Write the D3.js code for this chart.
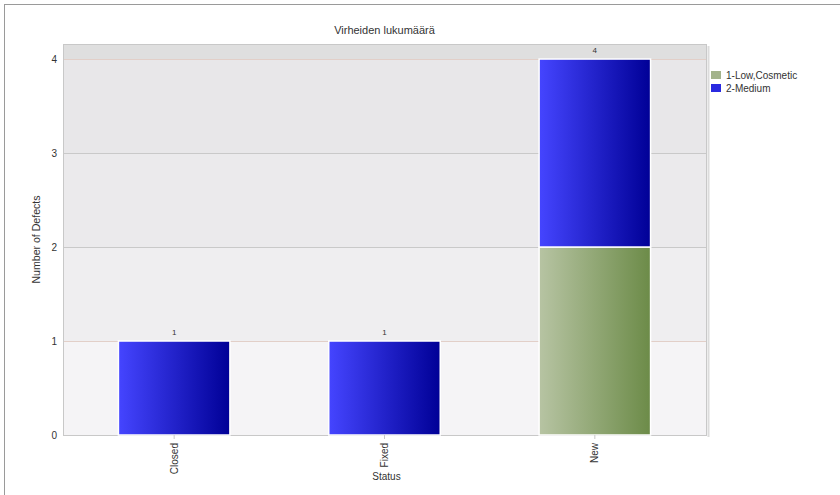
<!DOCTYPE html>
<html>
<head>
<meta charset="utf-8">
<title>Virheiden lukumäärä</title>
<script src="https://d3js.org/d3.v7.min.js"></script>
<style>
  body { margin: 0; background: #fff; }
  svg { display: block; font-family: Arial, "Liberation Sans", sans-serif; }
</style>
</head>
<body>
<svg id="chart" width="840" height="495"></svg>
<script>
// chart data
const categories = ['Closed', 'Fixed', 'New'];
const seriesNames = ['1-Low,Cosmetic', '2-Medium'];
const lowValues = [0, 0, 2];
const mediumValues = [1, 1, 2];
const yTicks = [0, 1, 2, 3, 4];

const svg = d3.select('#chart');
const margin = { top: 44, right: 134, bottom: 60, left: 63 };
const width = 840, height = 495;
const innerW = width - margin.left - margin.right;
const innerH = height - margin.top - margin.bottom;

// frame of the screenshot (top and left only)
svg.append('line').attr('x1', 4).attr('x2', 840).attr('y1', 4.5).attr('y2', 4.5).attr('stroke', '#9a9a9a');
svg.append('line').attr('x1', 4.5).attr('x2', 4.5).attr('y1', 4).attr('y2', 495).attr('stroke', '#9a9a9a');

const defs = svg.append('defs');
function hGrad(id, c1, c2) {
  const g = defs.append('linearGradient').attr('id', id).attr('x1', '0%').attr('x2', '100%');
  g.append('stop').attr('offset', '0%').attr('stop-color', c1);
  g.append('stop').attr('offset', '100%').attr('stop-color', c2);
}
hGrad('gBlue', '#4545ff', '#000096');
hGrad('gGreen', '#b7c4a3', '#6c8b48');

const x = d3.scaleBand().domain(categories)
  .range([6, innerW - 6]).paddingInner(0.47).paddingOuter(0.235);
const y = d3.scaleLinear().domain([0, 4.16]).range([innerH, 0]);

const g = svg.append('g').attr('transform', `translate(${margin.left},${margin.top})`);

// background bands
const bandColors = ['#f5f4f6', '#efeef0', '#ebeaec', '#e8e7e9', '#dfdfdf'];
const bandEdges = [0, 1, 2, 3, 4, 4.16];
bandColors.forEach((c, i) => {
  g.append('rect').attr('x', 0).attr('width', innerW)
    .attr('y', y(bandEdges[i + 1])).attr('height', y(bandEdges[i]) - y(bandEdges[i + 1]))
    .attr('fill', c);
});

// gridlines
g.selectAll('.grid').data(yTicks.slice(1)).enter().append('line')
  .attr('x1', 0).attr('x2', innerW)
  .attr('y1', d => Math.round(y(d)) + 0.5).attr('y2', d => Math.round(y(d)) + 0.5)
  .attr('stroke', d => (d === 1 || d === 4) ? '#e2cfc8' : '#c9c9c9');

// plot border
g.append('rect').attr('x', 0.5).attr('y', 0.5).attr('width', innerW).attr('height', innerH)
  .attr('fill', 'none').attr('stroke', '#c8c8c8');
g.append('line').attr('x1', innerW + 2.5).attr('x2', innerW + 2.5).attr('y1', 2).attr('y2', innerH + 2)
  .attr('stroke', '#dcdcdc').attr('stroke-width', 2);

// stacked bars
const rows = categories.map((c, i) => ({ cat: c, low: lowValues[i], medium: mediumValues[i] }));
const stack = d3.stack().keys(['low', 'medium'])(rows);
const fills = ['url(#gGreen)', 'url(#gBlue)'];
stack.forEach((layer, li) => {
  g.selectAll('.bar' + li).data(layer.filter(d => d[1] > d[0])).enter().append('rect')
    .attr('x', d => x(d.data.cat))
    .attr('width', x.bandwidth())
    .attr('y', d => y(d[1]))
    .attr('height', d => y(d[0]) - y(d[1]))
    .attr('fill', fills[li])
    .attr('stroke', '#fff').attr('stroke-width', 1.5);
});

// totals
g.selectAll('.total').data(rows).enter().append('text')
  .attr('x', d => x(d.cat) + x.bandwidth() / 2)
  .attr('y', d => y(d.low + d.medium) - 6)
  .attr('text-anchor', 'middle').attr('font-size', 8).attr('fill', '#333')
  .text(d => d.low + d.medium);

// y axis
const yAxis = d3.axisLeft(y).tickValues(yTicks).tickFormat(d3.format('d')).tickSize(0).tickPadding(6);
g.append('g').call(yAxis)
  .call(a => a.select('.domain').remove())
  .selectAll('text').attr('font-size', 10).attr('fill', '#333');

// x axis
const xAxis = d3.axisBottom(x).tickSize(4).tickPadding(3);
const xa = g.append('g').attr('transform', `translate(0,${innerH})`).call(xAxis);
xa.select('.domain').remove();
xa.selectAll('line').attr('stroke', '#c8c8c8');
xa.selectAll('text')
  .attr('font-size', 10).attr('fill', '#333')
  .attr('text-anchor', 'end')
  .attr('transform', 'rotate(-90)')
  .attr('x', -8).attr('y', 0).attr('dy', '0.35em');

// labels
svg.append('text').attr('x', margin.left + innerW / 2).attr('y', 34)
  .attr('text-anchor', 'middle').attr('font-size', 11).attr('fill', '#333')
  .text('Virheiden lukumäärä');
svg.append('text').attr('x', margin.left + innerW / 2 + 2).attr('y', 480)
  .attr('text-anchor', 'middle').attr('font-size', 10).attr('fill', '#333')
  .text('Status');
svg.append('text').attr('transform', `translate(40,${margin.top + innerH / 2}) rotate(-90)`)
  .attr('text-anchor', 'middle').attr('font-size', 10).attr('fill', '#333')
  .attr('textLength', 88).attr('lengthAdjust', 'spacingAndGlyphs')
  .text('Number of Defects');

// legend
const legendColors = ['#a3b38b', '#2a2ae0'];
const lg = svg.append('g').attr('transform', 'translate(711,71)');
seriesNames.forEach((s, i) => {
  lg.append('rect').attr('x', 0).attr('y', i * 13).attr('width', 10).attr('height', 8)
    .attr('fill', legendColors[i]);
  lg.append('text').attr('x', 15).attr('y', i * 13 + 8).attr('font-size', 10).attr('fill', '#333')
    .text(s);
});
</script>
</body>
</html>
